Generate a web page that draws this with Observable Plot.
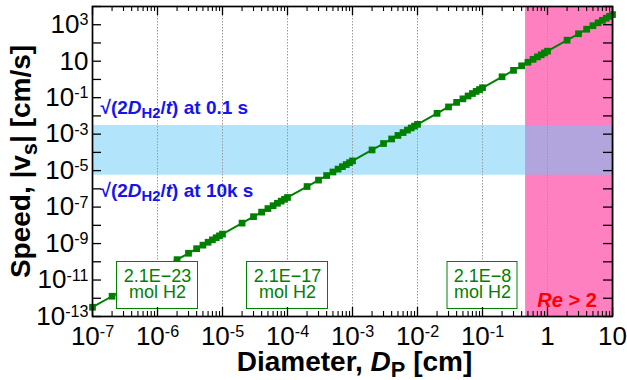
<!DOCTYPE html>
<html>
<head>
<meta charset="utf-8">
<script src="https://cdn.jsdelivr.net/npm/d3@7"></script>
<script src="https://cdn.jsdelivr.net/npm/@observablehq/plot@0.6"></script>
<style>
  body { margin: 0; background: #fff; }
  svg { display: block; }
</style>
</head>
<body>
<div id="chart"></div>
<script>
// Bubble diameter (cm) and rise speed (cm/s)
const diameters = [
  1e-7, 2e-7, 3e-7, 4e-7, 5e-7, 6e-7, 7e-7, 8e-7, 9e-7,
  1e-6, 2e-6, 3e-6, 4e-6, 5e-6, 6e-6, 7e-6, 8e-6, 9e-6,
  1e-5, 2e-5, 3e-5, 4e-5, 5e-5, 6e-5, 7e-5, 8e-5, 9e-5,
  1e-4, 2e-4, 3e-4, 4e-4, 5e-4, 6e-4, 7e-4, 8e-4, 9e-4,
  1e-3, 2e-3, 3e-3, 4e-3, 5e-3, 6e-3, 7e-3, 8e-3, 9e-3,
  1e-2, 2e-2, 3e-2, 4e-2, 5e-2, 6e-2, 7e-2, 8e-2, 9e-2,
  0.1, 0.2, 0.3, 0.4, 0.5, 0.6, 0.7, 0.8, 0.9,
  1, 2, 3, 4, 5, 6, 7, 8, 9,
  10
];
const speeds = [
  3.22e-13, 1.29e-12, 2.90e-12, 5.15e-12, 8.05e-12, 1.16e-11, 1.58e-11, 2.06e-11, 2.61e-11,
  3.27e-11, 1.31e-10, 2.94e-10, 5.23e-10, 8.18e-10, 1.18e-9, 1.60e-9, 2.09e-9, 2.65e-9,
  3.31e-9, 1.32e-8, 2.98e-8, 5.30e-8, 8.28e-8, 1.19e-7, 1.62e-7, 2.12e-7, 2.68e-7,
  3.36e-7, 1.34e-6, 3.02e-6, 5.38e-6, 8.40e-6, 1.21e-5, 1.65e-5, 2.15e-5, 2.72e-5,
  3.40e-5, 1.36e-4, 3.06e-4, 5.44e-4, 8.50e-4, 1.22e-3, 1.67e-3, 2.18e-3, 2.75e-3,
  3.45e-3, 1.38e-2, 3.11e-2, 5.52e-2, 8.63e-2, 0.124, 0.169, 0.221, 0.279,
  0.350, 1.40, 3.15, 5.60, 8.75, 12.6, 17.2, 22.4, 28.4,
  35.5, 142, 320, 568, 888, 1280, 1740, 2270, 2880,
  3600
];

// Axis ticks and labels
const xTickValues = [1e-7, 1e-6, 1e-5, 1e-4, 1e-3, 1e-2, 1e-1, 1, 10];
const xTickLabels = ["10<sup>-7</sup>", "10<sup>-6</sup>", "10<sup>-5</sup>", "10<sup>-4</sup>",
  "10<sup>-3</sup>", "10<sup>-2</sup>", "10<sup>-1</sup>", "1", "10"];
const yTickValues = [1e3, 1e1, 1e-1, 1e-3, 1e-5, 1e-7, 1e-9, 1e-11, 1e-13];
const yTickLabels = ["10<sup>3</sup>", "10", "10<sup>-1</sup>", "10<sup>-3</sup>", "10<sup>-5</sup>",
  "10<sup>-7</sup>", "10<sup>-9</sup>", "10<sup>-11</sup>", "10<sup>-13</sup>"];

// Diffusion speed range, √(2D/t) for t = 10k s … 0.1 s
const diffusionRange = [5.6e-6, 3e-3];
const diffusionTexts = ["√(2<i>D</i><sub>H2</sub>/<i>t</i>) at 0.1 s", "√(2<i>D</i><sub>H2</sub>/<i>t</i>) at 10k s"];
const diffusionTextSpeeds = [2.7e-2, 8e-7];

// Onset of Re > 2
const reynoldsDiameter = 0.46;

// Amount of H2 in a bubble of the given diameter
const amountTexts = ["2.1E−23\nmol H2", "2.1E−17\nmol H2", "2.1E−8\nmol H2"];
const amountDiameters = [1e-6, 1e-4, 1e-1];
const amountSpeed = 5e-12;

const points = diameters.map((d, i) => ({d, v: speeds[i]}));
const amounts = amountTexts.map((text, i) => ({text, d: amountDiameters[i], v: amountSpeed}));
const diffusionNotes = diffusionTexts.map((text, i) => ({text, v: diffusionTextSpeeds[i]}));

const xDomain = [1e-7, 10];
const yDomain = [1e-13, 1e4];
const xDecades = d3.range(-7, 2).map(e => Math.pow(10, e));
const xMinor = d3.range(-7, 1).flatMap(e => d3.range(2, 10).map(m => m * Math.pow(10, e)));
const yDecades = d3.range(-13, 5).map(e => Math.pow(10, e));
const xGrid = xDecades.slice(1, -1);

const green = "#008000";
const blue = "#1414ee";
const majorLen = 9, minorLen = 5;

const boxMarks = amounts.map(a => {
  const w = a.text.split("\n")[0].length > 6 ? 81 : 70;
  return Plot.rect([a], {
    x1: "d", x2: "d", y1: "v", y2: "v",
    insetLeft: -w / 2, insetRight: -w / 2, insetTop: -23.5, insetBottom: -23.5,
    fill: "white", stroke: green, strokeWidth: 1
  });
});

const chart = Plot.plot({
  width: 627,
  height: 380,
  marginLeft: 92,
  marginRight: 15,
  marginTop: 6,
  marginBottom: 64,
  style: {fontFamily: "'Liberation Sans', Arial, sans-serif", background: "white", color: "black", overflow: "visible"},
  x: {type: "log", domain: xDomain, axis: null},
  y: {type: "log", domain: yDomain, axis: null},
  marks: [
    // Re > 2 region and diffusion band
    Plot.rect([reynoldsDiameter], {x1: d => d, x2: xDomain[1], y1: yDomain[0], y2: yDomain[1], fill: "#ff80c0", insetRight: -1.5}),
    Plot.rect([diffusionRange], {x1: xDomain[0], x2: xDomain[1], y1: d => d[0], y2: d => d[1], fill: "rgb(102,202,249)", fillOpacity: 0.5}),
    // vertical grid
    Plot.ruleX(xGrid, {x: d => d, stroke: "#9a9a9a", strokeWidth: 1, strokeDasharray: "1.5,1.5"}),
    // speed curve
    Plot.line(points, {x: "d", y: "v", stroke: green, strokeWidth: 2}),
    Plot.dot(points, {x: "d", y: "v", symbol: "square", fill: green, r: 3.8}),
    // amount boxes
    ...boxMarks,
    Plot.text(amounts, {x: "d", y: "v", text: "text", fill: green, fontSize: 18, lineHeight: 0.92, dy: -1}),
    // annotations
    Plot.text(diffusionNotes, {y: "v", text: "text", frameAnchor: "left", dx: 8, textAnchor: "start", fill: blue, fontSize: 19, fontWeight: "bold"}),
    Plot.text(["<i>Re</i> > 2"], {x: 2, y: 7e-13, text: d => d, fill: "#f00", fontSize: 20, fontWeight: "bold"}),
    // inward ticks on all four sides
    Plot.ruleX(xDecades, {x: d => d, y1: yDomain[0], y2: yDomain[0], insetTop: -majorLen, stroke: "black", strokeWidth: 1.3}),
    Plot.ruleX(xMinor, {x: d => d, y1: yDomain[0], y2: yDomain[0], insetTop: -minorLen, stroke: "black", strokeWidth: 1.1}),
    Plot.ruleX(xDecades, {x: d => d, y1: yDomain[1], y2: yDomain[1], insetBottom: -majorLen, stroke: "black", strokeWidth: 1.3}),
    Plot.ruleX(xMinor, {x: d => d, y1: yDomain[1], y2: yDomain[1], insetBottom: -minorLen, stroke: "black", strokeWidth: 1.1}),
    Plot.ruleY(yDecades, {y: d => d, x1: xDomain[0], x2: xDomain[0], insetRight: -majorLen, stroke: "black", strokeWidth: 1.3}),
    Plot.ruleY(yDecades, {y: d => d, x1: xDomain[1], x2: xDomain[1], insetLeft: -majorLen, stroke: "black", strokeWidth: 1.3}),
    Plot.frame({stroke: "black", strokeWidth: 1.7}),
    // tick labels
    Plot.text(xTickValues, {x: d => d, text: (d, i) => xTickLabels[i], frameAnchor: "bottom", lineAnchor: "middle", dy: 20, fontSize: 26, fill: "black"}),
    Plot.text(yTickValues, {y: d => d, text: (d, i) => yTickLabels[i], frameAnchor: "left", lineAnchor: "middle", dx: -4, textAnchor: "end", fontSize: 26, fill: "black"}),
    // axis titles
    Plot.text(["Diameter, <i>D</i><sub>P</sub> [cm]"], {text: d => d, frameAnchor: "bottom", lineAnchor: "middle", textAnchor: "middle", dx: 2, dy: 45.5, fontSize: 28, fontWeight: "bold", fill: "black"}),
    Plot.text(["Speed, |v<sub>s</sub>| [cm/s]"], {text: d => d, frameAnchor: "left", lineAnchor: "middle", textAnchor: "middle", dx: -71, rotate: -90, fontSize: 28, fontWeight: "bold", fill: "black"})
  ]
});

document.getElementById("chart").appendChild(chart);

// Turn <i>, <sub>, <sup> markup in single-line labels into styled tspans
function applyRichText(svg) {
  const ns = "http://www.w3.org/2000/svg";
  const tagRe = /^<(\/?)(i|sub|sup)>$/;
  svg.querySelectorAll("text").forEach(t => {
    if (t.childElementCount > 0) return;
    const s = t.textContent;
    if (!/<\/?(i|sub|sup)>/.test(s)) return;
    const size = parseFloat(getComputedStyle(t).fontSize);
    t.textContent = "";
    let italic = false, mode = null, shift = 0;
    for (const part of s.split(/(<\/?(?:i|sub|sup)>)/)) {
      if (!part) continue;
      const m = part.match(tagRe);
      if (m) {
        const open = !m[1];
        if (m[2] === "i") italic = open; else mode = open ? m[2] : null;
        continue;
      }
      const ts = document.createElementNS(ns, "tspan");
      const target = mode === "sup" ? -0.3 * size : mode === "sub" ? 0.22 * size : 0;
      if (target !== shift) { ts.setAttribute("dy", target - shift); shift = target; }
      if (mode === "sup") ts.setAttribute("font-size", size * 0.62);
      if (mode === "sub") ts.setAttribute("font-size", size * 0.78);
      if (italic) ts.setAttribute("font-style", "italic");
      ts.textContent = part;
      t.appendChild(ts);
    }
  });
}
applyRichText(chart);
</script>
</body>
</html>
